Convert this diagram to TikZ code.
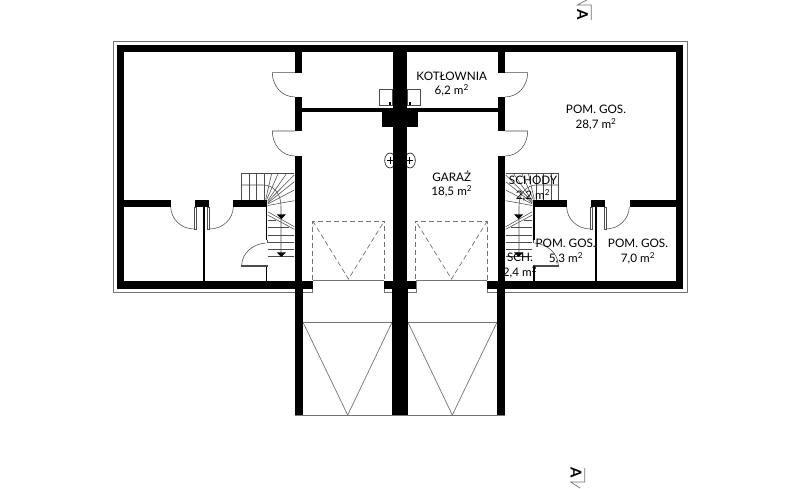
\documentclass[tikz,border=0pt]{standalone}
\usepackage{fontspec}
\setmainfont{Lato}
\tikzset{
  x=1pt,y=-1pt,
  wall/.style={fill=black,draw=none},
  thin line/.style={draw=black!55,line width=0.7pt},
  fine line/.style={draw=black!70,line width=0.55pt},
  hidden line/.style={draw=black!55,line width=0.7pt,dash pattern=on 5pt off 3pt},
  room label/.style={inner sep=0pt,font=\fontsize{11.7}{12}\selectfont,text=black},
  section letter/.style={inner sep=0pt,font=\fontsize{15}{15}\bfseries\selectfont,rotate=-90},
}
\newcommand{\halfplan}{%
  % outer contour
  \draw[thin line] (400,41.5) -- (113,41.5) -- (113,292) -- (312.5,292) -- (312.5,281);
  \draw[thin line] (384,281) -- (384,292) -- (400,292);
  \draw[thin line] (313,280.5) -- (384,280.5);
  % garage forecourt
  \draw[thin line] (303,322.3) -- (392,322.3);
  \draw[thin line] (303,322.3) -- (347.7,415) -- (392,322.3);
  \draw[thin line] (295,415) -- (400,415);
  % hidden door
  \draw[hidden line] (312.7,280) -- (312.7,221) -- (384.3,221) -- (384.3,280);
  \draw[hidden line] (312.7,221) -- (348.5,279) -- (384.3,221);
  % stairs
  \draw[fine line] (241.3,199.5) -- (241.3,173.3) -- (294.3,173.3);
  \draw[fine line] (241.3,185) -- (263,185) .. controls (274,185) and (281,194) .. (281,206) -- (281,253);
  \foreach \u in {249,256.7,264}{\draw[fine line] (\u,173.3) -- (\u,199.5);}
  \draw[fine line] (271.7,173.3) -- (265.7,199.5);
  \draw[fine line] (278.3,173.3) -- (266.7,199.5);
  \draw[fine line] (286.7,173.3) -- (267.7,200.7);
  \draw[fine line] (294.3,175) -- (267.7,201.7);
  \draw[fine line] (294.3,181.7) -- (267.7,203);
  \draw[fine line] (294.3,190) -- (267.7,204);
  \draw[fine line] (294.3,200.7) -- (267.7,205.5);
  \draw[fine line] (267.7,211.7) -- (294.3,226.7);
  \draw[fine line] (267.7,215) -- (294.3,229.3);
  \draw[fine line] (267.7,220) -- (276,220);
  \draw[fine line] (267.7,227.7) -- (289,227.7);
  \foreach \v in {235,242.3,249.3,256.7}{\draw[fine line] (267.7,\v) -- (294.3,\v);}
  \fill[black] (276.7,214.3) -- (286,214.3) -- (281.3,219) -- cycle;
  \fill[black] (276.7,252.3) -- (286,252.3) -- (281.3,257) -- cycle;
  % doors
  \draw[fine line] (295,72.6) -- (272.3,72.6) .. controls (272.3,86) and (282,97) .. (295,97);
  \draw[fine line] (295,131) -- (272.3,131) .. controls (272.3,145) and (282,156) .. (295,156);
  \draw[fine line] (170.7,207) .. controls (171,219) and (181,229) .. (194.3,229);
  \draw[fine line] (233.3,207) .. controls (233,219) and (223,229) .. (209.3,229);
  \draw[fine line,fill=white] (194,207) rectangle (195.8,229);
  \draw[fine line,fill=white] (207.5,207) rectangle (209.3,229);
  \draw[fine line] (265.7,243) .. controls (252,244) and (242,254) .. (241.7,265);
  \draw[fine line,fill=white] (241.7,265) rectangle (267,266.6);
  \draw[fine line] (267,240) -- (267,243);
  % boiler
  \draw[fine line] (379.3,89.3) rectangle (392.7,105.7);
  \fill[black] (388.8,102.3) rectangle (391.2,105);
  \draw[black,line width=0.6pt] (390,160.5) ellipse [x radius=5.3,y radius=7.5];
  \draw[black,line width=0.6pt] (387,160.5) -- (393,160.5) (390.5,157) -- (390.5,164);
  % walls
  \fill[wall] (116.7,44.5) rectangle (400,52.3);
  \fill[wall] (116.7,44.5) rectangle (124.3,289);
  \fill[wall] (116.7,281) rectangle (313.3,289);
  \fill[wall] (384,281) rectangle (400,289);
  \fill[wall] (294.7,44.5) rectangle (302,72.6);
  \fill[wall] (294.7,97) rectangle (302,131);
  \fill[wall] (294.7,156) rectangle (302,289);
  \fill[wall] (294.7,289) rectangle (303.3,415);
  \fill[wall] (393.3,44.5) rectangle (400,289);
  \fill[wall] (391.7,289) rectangle (400,415);
  \fill[wall] (302,108.3) rectangle (400,112.3);
  \fill[wall] (381.7,112) rectangle (400,127.3);
  \fill[wall] (124,199.7) rectangle (170.5,207);
  \fill[wall] (195.3,199.7) rectangle (208.7,207);
  \fill[wall] (233.3,199.7) rectangle (267,207);
  \fill[wall] (203.3,207) rectangle (205.3,281);
  \fill[wall] (265.5,207) rectangle (267.3,240);
  \fill[wall] (265.5,267) rectangle (267.3,281);
}
\begin{document}
\begin{tikzpicture}
  \useasboundingbox (0,0) rectangle (800,488);
  \fill[white] (0,0) rectangle (800,488);
  \halfplan
  \begin{scope}[xshift=800pt,xscale=-1]
    \halfplan
  \end{scope}
  % room labels
  \node[room label] (kot) at (451.7,76) {KOTŁOWNIA};
  \node[room label] (kota) at (451.7,90) {6,2 m\textsuperscript{2}};
  \node[room label] (pom) at (596,109) {POM. GOS.};
  \node[room label] (poma) at (596,124) {28,7 m\textsuperscript{2}};
  \node[room label] (gar) at (451.7,176) {GARAŻ};
  \node[room label] (gara) at (451.7,191) {18,5 m\textsuperscript{2}};
  \node[room label] (sch) at (533,180) {SCHODY};
  \node[room label] (scha) at (533,195) {2,2 m\textsuperscript{2}};
  \node[room label] (pomb) at (565.7,243) {POM. GOS.};
  \node[room label] (pomba) at (566,258) {5,3 m\textsuperscript{2}};
  \node[room label] (pomc) at (638,243) {POM. GOS.};
  \node[room label] (pomca) at (638,258) {7,0 m\textsuperscript{2}};
  \node[room label] (schb) at (520,257) {SCH.};
  \node[room label] (schba) at (520,272) {2,4 m\textsuperscript{2}};
  % section marks
  \node[section letter] (secta) at (582.5,15) {A};
  \coordinate (tv) at (591.3,20);
  \coordinate (tc) at (591.3,5);
  \coordinate (td) at (577.3,5);
  \coordinate (te) at (586.7,0);
  \draw[thin line] (tv) -- (tc) -- (td) -- (te);
  \node[section letter] (sectb) at (576,473) {A};
  \coordinate (bv) at (584.7,468);
  \coordinate (bc) at (584.7,482);
  \coordinate (bd) at (570.7,482);
  \coordinate (be) at (580,488);
  \draw[thin line] (bv) -- (bc) -- (bd) -- (be);
\end{tikzpicture}
\end{document}
